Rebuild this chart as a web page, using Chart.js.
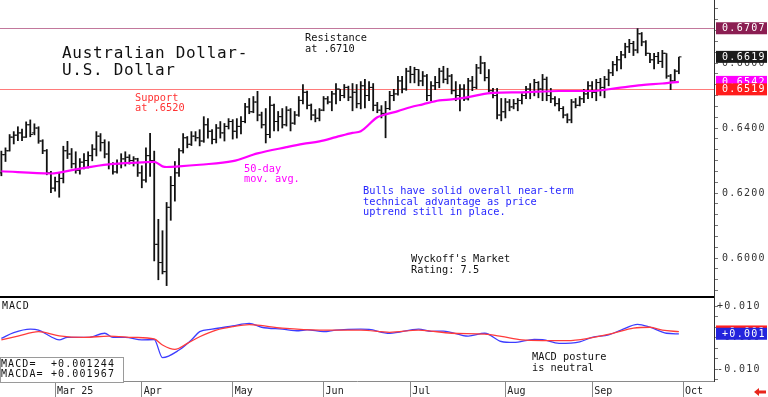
<!DOCTYPE html>
<html lang="en">
<head>
  <meta charset="UTF-8">
  <title>Australian Dollar - U.S. Dollar</title>
  <script src="https://cdn.jsdelivr.net/npm/chart.js"></script>
  <style>
    body {
      margin: 0;
      background: #fff;
    }
    #wrap {
      width: 768px;
      height: 397px;
    }
  </style>
</head>
<body>
  <div id="wrap"><canvas id="fxChart" width="768" height="397"></canvas></div>

  <script>
    // daily bars, Feb 12 .. Sep 30
    const opens = [
      0.6262,0.6318,0.6330,0.6372,0.6378,0.6385,0.6372,0.6410,0.6385,0.6400,
      0.6360,0.6330,0.6262,0.6215,0.6235,0.6245,0.6330,0.6320,0.6290,0.6270,
      0.6295,0.6300,0.6315,0.6335,0.6375,0.6355,0.6320,0.6290,0.6265,0.6290,
      0.6305,0.6310,0.6300,0.6305,0.6262,0.6240,0.6315,0.6300,0.6042,0.5986,
      0.5958,0.6156,0.6223,0.6262,0.6330,0.6370,0.6350,0.6375,0.6370,0.6360,
      0.6410,0.6390,0.6365,0.6400,0.6385,0.6405,0.6420,0.6390,0.6405,0.6420,
      0.6465,0.6450,0.6480,0.6440,0.6410,0.6380,0.6470,0.6420,0.6435,0.6410,
      0.6455,0.6415,0.6440,0.6485,0.6510,0.6470,0.6440,0.6430,0.6455,0.6490,
      0.6480,0.6505,0.6520,0.6500,0.6525,0.6495,0.6510,0.6475,0.6530,0.6500,
      0.6525,0.6470,0.6455,0.6445,0.6460,0.6500,0.6505,0.6545,0.6520,0.6575,
      0.6565,0.6580,0.6545,0.6560,0.6500,0.6530,0.6540,0.6575,0.6550,0.6560,
      0.6515,0.6500,0.6520,0.6490,0.6545,0.6525,0.6585,0.6600,0.6555,0.6515,
      0.6500,0.6440,0.6450,0.6480,0.6465,0.6475,0.6485,0.6500,0.6520,0.6510,
      0.6540,0.6520,0.6550,0.6500,0.6490,0.6475,0.6460,0.6440,0.6425,0.6480,
      0.6470,0.6490,0.6505,0.6530,0.6510,0.6540,0.6525,0.6550,0.6570,0.6595,
      0.6610,0.6625,0.6650,0.6660,0.6640,0.6690,0.6665,0.6630,0.6610,0.6620,
      0.6605,0.6630,0.6560,0.6545,0.6575
    ];
    const highs = [
      0.6330,0.6340,0.6381,0.6390,0.6405,0.6398,0.6420,0.6426,0.6414,0.6405,
      0.6365,0.6335,0.6268,0.6250,0.6262,0.6345,0.6360,0.6338,0.6328,0.6307,
      0.6322,0.6328,0.6350,0.6390,0.6384,0.6365,0.6359,0.6295,0.6303,0.6322,
      0.6328,0.6319,0.6313,0.6308,0.6285,0.6340,0.6385,0.6330,0.6120,0.6085,
      0.6172,0.6252,0.6298,0.6338,0.6384,0.6375,0.6390,0.6390,0.6396,0.6436,
      0.6430,0.6396,0.6412,0.6421,0.6415,0.6430,0.6427,0.6430,0.6436,0.6477,
      0.6492,0.6498,0.6514,0.6450,0.6461,0.6498,0.6475,0.6452,0.6461,0.6467,
      0.6461,0.6452,0.6498,0.6535,0.6515,0.6475,0.6458,0.6461,0.6498,0.6498,
      0.6514,0.6538,0.6520,0.6535,0.6530,0.6538,0.6535,0.6544,0.6551,0.6544,
      0.6538,0.6480,0.6470,0.6483,0.6514,0.6520,0.6560,0.6560,0.6585,0.6591,
      0.6588,0.6581,0.6575,0.6566,0.6544,0.6560,0.6585,0.6591,0.6585,0.6566,
      0.6544,0.6535,0.6535,0.6554,0.6560,0.6597,0.6622,0.6603,0.6581,0.6523,
      0.6523,0.6492,0.6492,0.6489,0.6489,0.6492,0.6507,0.6529,0.6538,0.6551,
      0.6544,0.6566,0.6558,0.6523,0.6498,0.6492,0.6467,0.6445,0.6489,0.6492,
      0.6498,0.6520,0.6544,0.6544,0.6551,0.6554,0.6560,0.6581,0.6606,0.6622,
      0.6637,0.6662,0.6674,0.6668,0.6707,0.6695,0.6670,0.6631,0.6631,0.6634,
      0.6640,0.6630,0.6566,0.6581,0.6619
    ];
    const lows = [
      0.6252,0.6296,0.6328,0.6350,0.6360,0.6360,0.6370,0.6372,0.6378,0.6352,
      0.6320,0.6255,0.6200,0.6205,0.6186,0.6230,0.6305,0.6276,0.6260,0.6257,
      0.6273,0.6276,0.6298,0.6313,0.6328,0.6307,0.6273,0.6257,0.6260,0.6276,
      0.6282,0.6288,0.6282,0.6250,0.6215,0.6232,0.6250,0.5990,0.5932,0.5950,
      0.5914,0.6115,0.6174,0.6250,0.6322,0.6338,0.6345,0.6359,0.6344,0.6355,
      0.6368,0.6350,0.6353,0.6368,0.6359,0.6396,0.6365,0.6368,0.6381,0.6415,
      0.6443,0.6446,0.6421,0.6399,0.6353,0.6369,0.6390,0.6390,0.6399,0.6405,
      0.6390,0.6410,0.6435,0.6473,0.6458,0.6424,0.6418,0.6421,0.6452,0.6473,
      0.6452,0.6473,0.6483,0.6492,0.6483,0.6452,0.6461,0.6458,0.6461,0.6483,
      0.6452,0.6446,0.6430,0.6369,0.6455,0.6483,0.6500,0.6507,0.6515,0.6538,
      0.6538,0.6529,0.6529,0.6483,0.6483,0.6517,0.6523,0.6538,0.6535,0.6504,
      0.6483,0.6452,0.6483,0.6485,0.6514,0.6520,0.6566,0.6544,0.6510,0.6492,
      0.6427,0.6421,0.6430,0.6452,0.6458,0.6452,0.6473,0.6489,0.6489,0.6498,
      0.6492,0.6483,0.6483,0.6477,0.6467,0.6452,0.6430,0.6415,0.6415,0.6461,
      0.6467,0.6477,0.6489,0.6492,0.6483,0.6498,0.6492,0.6529,0.6560,0.6575,
      0.6581,0.6615,0.6631,0.6622,0.6630,0.6652,0.6622,0.6600,0.6581,0.6597,
      0.6585,0.6552,0.6517,0.6544,0.6566
    ];
    const closes = [
      0.6318,0.6330,0.6372,0.6378,0.6385,0.6372,0.6410,0.6380,0.6400,0.6360,
      0.6330,0.6262,0.6215,0.6235,0.6245,0.6330,0.6320,0.6290,0.6270,0.6295,
      0.6300,0.6315,0.6335,0.6375,0.6355,0.6320,0.6290,0.6265,0.6290,0.6305,
      0.6310,0.6300,0.6305,0.6262,0.6240,0.6315,0.6300,0.6042,0.5986,0.5958,
      0.6156,0.6223,0.6262,0.6330,0.6370,0.6350,0.6375,0.6370,0.6360,0.6410,
      0.6390,0.6365,0.6400,0.6385,0.6405,0.6420,0.6390,0.6405,0.6420,0.6465,
      0.6450,0.6480,0.6440,0.6410,0.6380,0.6470,0.6420,0.6435,0.6410,0.6455,
      0.6415,0.6440,0.6485,0.6510,0.6470,0.6440,0.6430,0.6455,0.6490,0.6480,
      0.6505,0.6520,0.6500,0.6525,0.6495,0.6510,0.6475,0.6530,0.6500,0.6525,
      0.6470,0.6455,0.6445,0.6460,0.6500,0.6505,0.6545,0.6520,0.6575,0.6565,
      0.6580,0.6545,0.6560,0.6500,0.6530,0.6540,0.6575,0.6550,0.6560,0.6515,
      0.6500,0.6520,0.6490,0.6545,0.6525,0.6585,0.6600,0.6555,0.6515,0.6500,
      0.6440,0.6450,0.6480,0.6465,0.6475,0.6485,0.6500,0.6520,0.6510,0.6540,
      0.6520,0.6550,0.6500,0.6490,0.6475,0.6460,0.6440,0.6425,0.6480,0.6470,
      0.6490,0.6505,0.6530,0.6510,0.6540,0.6525,0.6550,0.6570,0.6595,0.6610,
      0.6625,0.6650,0.6660,0.6640,0.6690,0.6665,0.6630,0.6610,0.6620,0.6605,
      0.6630,0.6560,0.6545,0.6575,0.6619
    ];

    // 50-day moving average, read at bar indexes
    const maIdx = [0,12,18,26,34,37,39,40,43,48,56,62,69,73,77,81,85,87,91,93,96,99,102,106,109,113,116,119,126,135,143,149,155,160,164];
    const maVal = [0.6267,0.6260,0.6273,0.6288,0.6294,0.6296,0.6282,0.6280,0.6282,0.6287,0.6298,0.6322,0.6341,0.6351,0.6359,0.6372,0.6385,0.6390,0.6433,0.6442,0.6452,0.6464,0.6473,0.6485,0.6488,0.6495,0.6503,0.6508,0.6510,0.6514,0.6514,0.6523,0.6532,0.6537,0.6542];

    // MACD (blue) and MACDA (red)
    const macdIdx = [0,3,7,9,12,14,16,21,25,27,30,34,37,39,43,46,48,51,56,60,63,68,72,74,78,81,87,89,94,101,104,107,113,117,121,124,129,131,135,140,143,147,150,154,157,161,164];
    const macdVal = [-0.0002,0.0016,0.0027,0.0024,0.0003,-0.0007,0.0001,0.0001,0.0014,0.0001,0.0001,-0.0007,-0.0006,-0.0063,-0.0039,-0.0007,0.0019,0.0027,0.0037,0.0045,0.0033,0.0027,0.0022,0.0025,0.0019,0.0024,0.0027,0.0026,0.0014,0.0027,0.0020,0.0021,0.0005,0.0014,-0.0012,-0.0015,-0.0005,-0.0006,-0.0018,-0.0013,0.0001,0.0009,0.0024,0.0042,0.0033,0.0014,0.0012];
    const macdaIdx = [0,4,9,14,20,26,32,37,39,42,45,48,52,56,60,68,77,87,94,101,109,117,121,126,131,137,142,148,153,157,160,164];
    const macdaVal = [-0.0007,0.0005,0.0019,0.0006,0.0001,0.0005,0.0001,-0.0004,-0.0023,-0.0037,-0.0018,0.0003,0.0024,0.0035,0.0041,0.0030,0.0024,0.0024,0.0017,0.0024,0.0014,0.0011,0.0004,-0.0007,-0.0009,-0.0009,-0.0002,0.0014,0.0030,0.0033,0.0024,0.0019];

    const monthTicks = [13, 34, 56, 78, 99, 122, 143, 165];
    const monthNames = ['Mar 25', 'Apr', 'May', 'Jun', 'Jul', 'Aug', 'Sep', 'Oct'];

    const resistance = 0.6707;
    const support = 0.6519;
    const lastClose = 0.6619;
    const lastMa = 0.6542;
    const macdNow = 0.001244;
    const macdaNow = 0.001967;

    const MONO = '"DejaVu Sans Mono", monospace';

    const notes = [
      { lines: ['Australian Dollar-', 'U.S. Dollar'], x: 62, y: 58, step: 17, size: 16, sp: 0.7, color: '#111' },
      { lines: ['Resistance', 'at .6710'], x: 305, y: 41, step: 10.5, size: 10.3, sp: 0, color: '#111' },
      { lines: ['Support', 'at .6520'], x: 135, y: 100.5, step: 10.3, size: 10.3, sp: 0, color: '#ff3333' },
      { lines: ['50-day', 'mov. avg.'], x: 244, y: 171.5, step: 10.3, size: 10.3, sp: 0, color: '#ff00ff' },
      { lines: ['Bulls have solid overall near-term', 'technical advantage as price', 'uptrend still in place.'], x: 363, y: 194, step: 10.7, size: 10.3, sp: 0, color: '#2828ff' },
      { lines: ["Wyckoff's Market", 'Rating: 7.5'], x: 411, y: 262, step: 11, size: 10.3, sp: 0, color: '#111' },
      { lines: ['MACD posture', 'is neutral'], x: 532, y: 360, step: 10.7, size: 10.3, sp: 0, color: '#111' },
      { lines: ['MACD'], x: 2, y: 309, step: 0, size: 10, sp: 0.9, color: '#111' }
    ];

    const tags = [
      { axis: 'y', v: resistance, bg: '#8b1e52' },
      { axis: 'y', v: lastClose, bg: '#1b1b1b' },
      { axis: 'y', v: lastMa, bg: '#ff00ff' },
      { axis: 'y', v: support, bg: '#ff1c1c' },
      { axis: 'm', v: macdaNow, bg: '#ff2020' },
      { axis: 'm', v: macdNow, bg: '#2424dd' }
    ];

    function writeLines(ctx, n) {
      ctx.font = n.size + 'px ' + MONO;
      ctx.fillStyle = n.color;
      ctx.letterSpacing = n.sp + 'px';
      ctx.textAlign = 'left';
      ctx.textBaseline = 'alphabetic';
      n.lines.forEach((s, i) => ctx.fillText(s, n.x, n.y + i * n.step));
    }

    // no label padding around the axes, the panes fill the canvas edge to edge
    function noPad(s) {
      s.paddingTop = 0;
      s.paddingBottom = 0;
      s.paddingLeft = 0;
      s.paddingRight = 0;
    }

    const overlay = {
      id: 'overlay',
      beforeDraw(chart) {
        chart.ctx.letterSpacing = '1.3px';
      },
      beforeDatasetsDraw(chart) {
        const { ctx, chartArea: a } = chart;
        const y = chart.scales.y;
        ctx.save();
        ctx.lineWidth = 1;
        [[resistance, '#c2789c'], [support, '#ff7a7a']].forEach(([v, c]) => {
          const py = Math.round(y.getPixelForValue(v)) + 0.5;
          ctx.strokeStyle = c;
          ctx.beginPath();
          ctx.moveTo(a.left, py);
          ctx.lineTo(a.right, py);
          ctx.stroke();
        });
        ctx.restore();
      },
      afterDraw(chart) {
        const { ctx, chartArea: a } = chart;
        const y = chart.scales.y;
        const x = chart.scales.x;
        ctx.save();

        // pane divider
        ctx.fillStyle = '#000';
        ctx.fillRect(a.left, Math.round(y.bottom) - 1, a.right - a.left, 2);

        notes.forEach(n => writeLines(ctx, n));

        // value tags on the right axis
        ctx.font = '10px ' + MONO;
        ctx.letterSpacing = '1.3px';
        ctx.textBaseline = 'middle';
        tags.forEach(t => {
          const s = chart.scales[t.axis];
          const py = s.getPixelForValue(t.v);
          const x0 = a.right + 2;
          ctx.fillStyle = t.bg;
          ctx.fillRect(x0, py - 6, chart.width - x0 - 1, 12);
          ctx.fillStyle = '#fff';
          const txt = t.axis === 'y' ? t.v.toFixed(4) : (t.v >= 0 ? '+' : '') + t.v.toFixed(3);
          ctx.fillText(txt, a.right + 8, py + 0.5);
        });

        // MACD readout box
        ctx.fillStyle = '#fff';
        ctx.fillRect(0, 357.5, 123, 25);
        ctx.strokeStyle = '#9a9a9a';
        ctx.lineWidth = 1;
        ctx.strokeRect(0.5, 357.5, 123, 25);
        ctx.font = '10px ' + MONO;
        ctx.letterSpacing = '1.1px';
        ctx.fillStyle = '#111';
        ctx.textBaseline = 'alphabetic';
        ctx.fillText('MACD=', 1, 366.5);
        ctx.fillText('MACDA=', 1, 377);
        ctx.fillText('+' + macdNow.toFixed(6), 51, 366.5);
        ctx.fillText('+' + macdaNow.toFixed(6), 51, 377);

        // month labels
        ctx.letterSpacing = '0px';
        ctx.fillStyle = '#222';
        monthTicks.forEach((t, i) => {
          const px = x.getPixelForValue(t);
          if (px < a.right) ctx.fillText(monthNames[i], px + 2, 394);
        });

        // little red arrow bottom right
        ctx.fillStyle = '#e8251b';
        ctx.beginPath();
        ctx.moveTo(754, 392);
        ctx.lineTo(759, 388);
        ctx.lineTo(759, 396);
        ctx.closePath();
        ctx.fill();
        ctx.fillRect(759, 390.5, 7, 3);

        ctx.restore();
      }
    };

    const bars = opens.map((_, i) => i);

    new Chart(document.getElementById('fxChart'), {
      type: 'bar',
      data: {
        datasets: [
          {
            type: 'line',
            label: '50-day mov. avg.',
            data: maIdx.map((v, i) => ({ x: v, y: maVal[i] })),
            yAxisID: 'y',
            borderColor: '#ff00ff',
            borderWidth: 2.2,
            pointRadius: 0,
            cubicInterpolationMode: 'monotone',
            order: 0
          },
          {
            type: 'bar',
            label: 'High-Low',
            data: bars.map(i => ({ x: i, y: [lows[i], highs[i]] })),
            yAxisID: 'y',
            backgroundColor: '#111',
            barThickness: 1.8,
            inflateAmount: 0,
            order: 1
          },
          {
            type: 'scatter',
            label: 'Open',
            data: bars.map(i => ({ x: i - 0.32, y: opens[i] })),
            yAxisID: 'y',
            pointStyle: 'line',
            pointRadius: 1.3,
            pointHoverRadius: 1.3,
            pointBorderColor: '#111',
            pointBorderWidth: 1,
            order: 1
          },
          {
            type: 'scatter',
            label: 'Close',
            data: bars.map(i => ({ x: i + 0.32, y: closes[i] })),
            yAxisID: 'y',
            pointStyle: 'line',
            pointRadius: 1.3,
            pointHoverRadius: 1.3,
            pointBorderColor: '#111',
            pointBorderWidth: 1,
            order: 1
          },
          {
            type: 'line',
            label: 'MACDA',
            data: macdaIdx.map((v, i) => ({ x: v, y: macdaVal[i] })),
            yAxisID: 'm',
            borderColor: '#ff3b3b',
            borderWidth: 1.3,
            pointRadius: 0,
            cubicInterpolationMode: 'monotone',
            order: 2
          },
          {
            type: 'line',
            label: 'MACD',
            data: macdIdx.map((v, i) => ({ x: v, y: macdVal[i] })),
            yAxisID: 'm',
            borderColor: '#3d3dff',
            borderWidth: 1.3,
            pointRadius: 0,
            cubicInterpolationMode: 'monotone',
            order: 3
          }
        ]
      },
      options: {
        responsive: false,
        animation: false,
        events: [],
        layout: { padding: 0, autoPadding: false },
        plugins: {
          legend: { display: false },
          tooltip: { enabled: false }
        },
        scales: {
          x: {
            type: 'linear',
            min: -0.33,
            max: 172.5,
            offset: false,
            grid: { drawOnChartArea: false, tickLength: 16, color: '#8a8a8a', offset: false },
            border: { color: '#8a8a8a' },
            ticks: { display: false },
            afterBuildTicks: s => { s.ticks = monthTicks.map(v => ({ value: v })); },
            afterFit: s => { s.height = 16; noPad(s); }
          },
          y: {
            type: 'linear',
            position: 'right',
            stack: 'panes',
            stackWeight: 297,
            min: 0.5880,
            max: 0.6794,
            grid: { drawOnChartArea: false, tickLength: 4, color: '#777' },
            border: { color: '#333' },
            ticks: {
              autoSkip: false,
              padding: 4,
              color: '#333',
              font: { family: MONO, size: 10 },
              callback: v => (Math.round(v * 300) % 6 === 0 ? v.toFixed(4) : '')
            },
            afterBuildTicks: s => {
              const t = [];
              for (let k = 177; k <= 203; k++) t.push({ value: k / 300 });
              s.ticks = t;
            },
            afterFit: s => { s.width = 54; noPad(s); }
          },
          m: {
            type: 'linear',
            position: 'right',
            stack: 'panes',
            stackWeight: 84,
            min: -0.01366,
            max: 0.01284,
            grid: { drawOnChartArea: false, tickLength: 4, color: '#777' },
            border: { color: '#333' },
            ticks: {
              autoSkip: false,
              padding: -1,
              color: '#333',
              font: { family: MONO, size: 10 },
              callback: v => {
                const k = Math.round(v * 300);
                if (k % 3 !== 0) return '';
                return (v >= 0 ? '+' : '') + v.toFixed(3);
              }
            },
            afterBuildTicks: s => {
              const t = [];
              for (let k = -4; k <= 3; k++) t.push({ value: k / 300 });
              s.ticks = t;
            },
            afterFit: s => { s.width = 54; noPad(s); }
          }
        }
      },
      plugins: [overlay]
    });
  </script>
</body>
</html>
